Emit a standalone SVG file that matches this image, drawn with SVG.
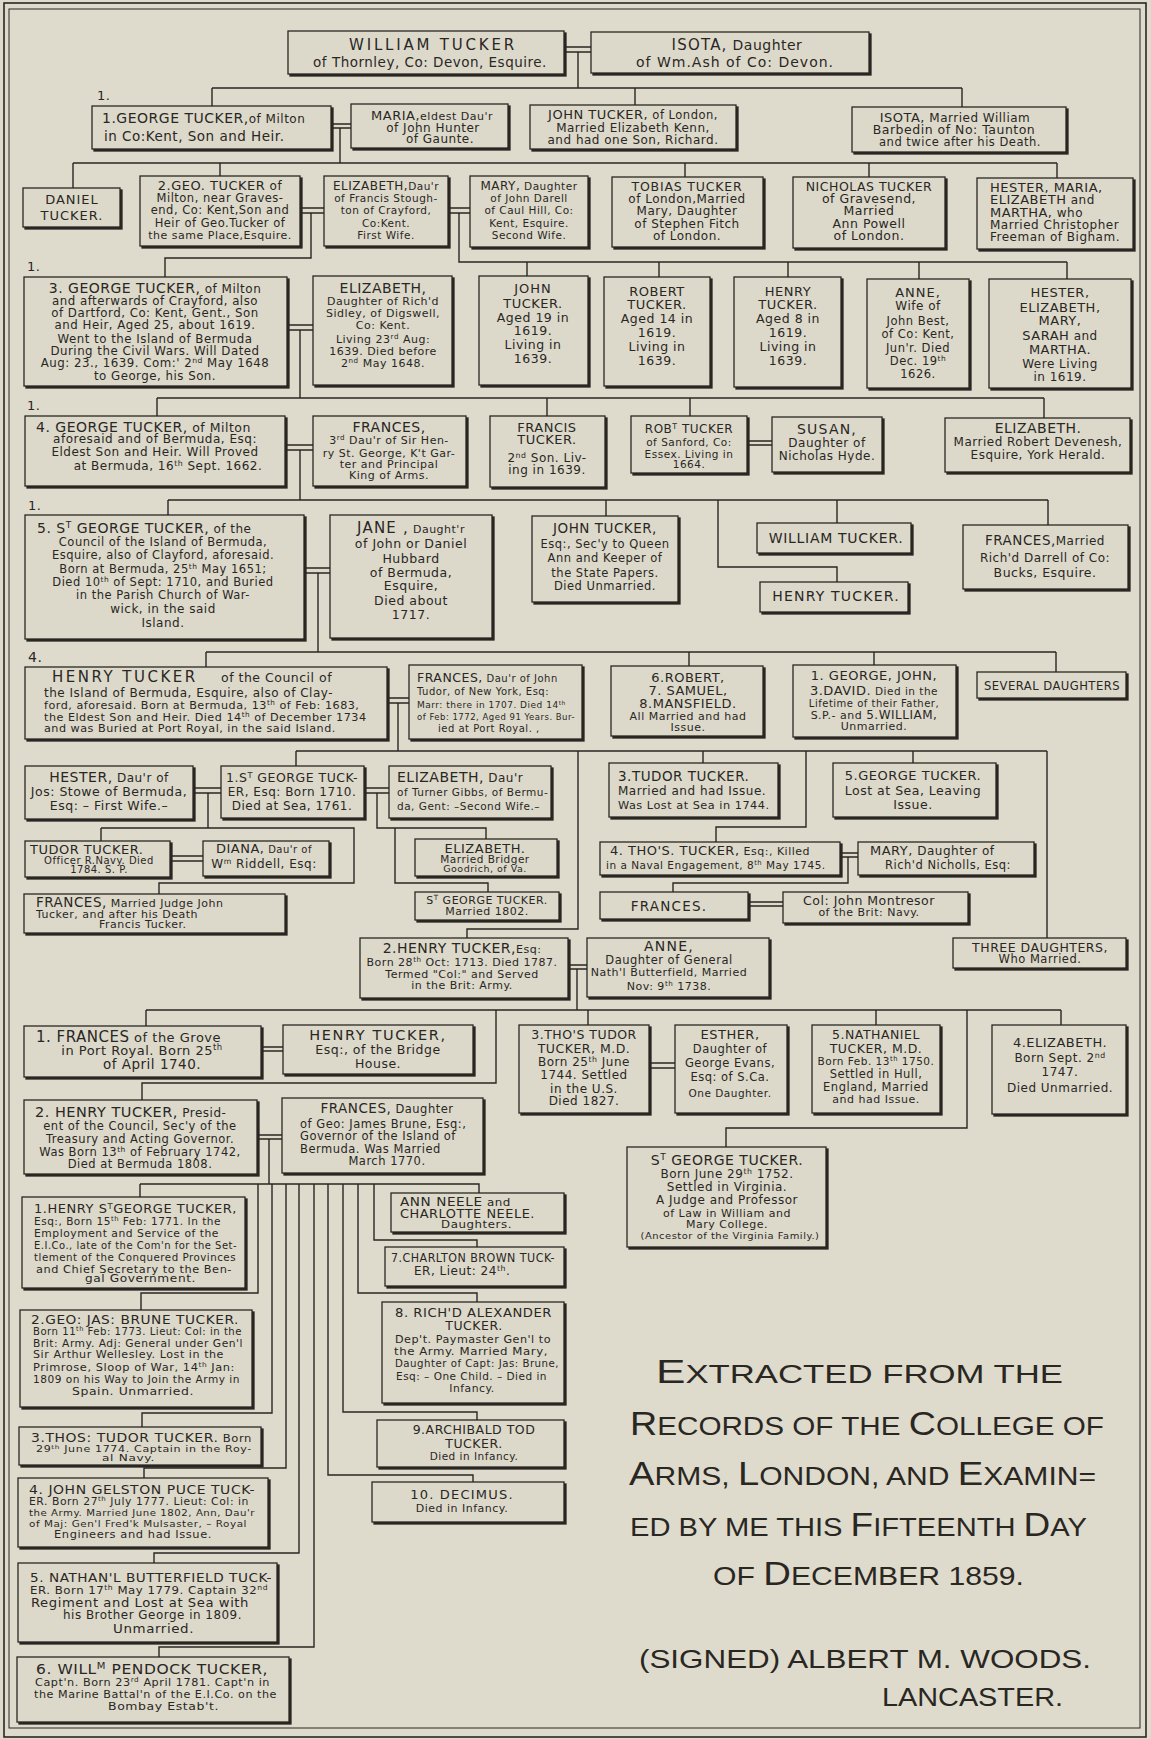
<svg xmlns="http://www.w3.org/2000/svg" width="1151" height="1739" viewBox="0 0 1151 1739">
<defs>
<filter id="sh" x="-5%" y="-10%" width="115%" height="130%" color-interpolation-filters="sRGB">
<feOffset in="SourceAlpha" dx="1.6" dy="2" result="o"/>
<feFlood flood-color="#2a2723"/>
<feComposite in2="o" operator="in" result="s"/>
<feMerge><feMergeNode in="s"/><feMergeNode in="SourceGraphic"/></feMerge>
</filter>
<style>
text{font-family:"DejaVu Sans","Liberation Sans",sans-serif;fill:#2a2723;letter-spacing:.5px}
.c{text-anchor:middle}
.bx{fill:#dcd9cb;stroke:#2a2723;stroke-width:1.3;filter:url(#sh)}
.ln{fill:none;stroke:#2a2723;stroke-width:1.4}
.fr{fill:none;stroke:#2a2723}
.sp{font-size:65%;baseline-shift:super}
.bg text{font-family:"Liberation Sans",sans-serif;fill:#2a2723;letter-spacing:0}
</style>
</defs>
<rect x="0" y="0" width="1151" height="1739" fill="#dedbcd"/>
<rect class="fr" x="4" y="3" width="1142" height="1734" stroke-width="1.6"/>
<rect class="fr" x="9" y="9" width="1131" height="1719" stroke-width="1"/>

<g id="connectors">
<path class="ln" d="M564 47H591M564 52H591M331 124H351M331 128H351M300 208H324M300 213H324M448 208H470M448 213H470M287 325H313M287 330H313M747 441H772M747 445H772M285 445H313M285 450H313M304 568H330M304 573H330M387 698H409M387 703H409M193 788H221M193 793H221M364 788H389M364 793H389M170 856H203M170 861H203M840 853H858M840 857H858M748 902H783M748 906H783M568 965H587M568 969H587M261 1047H283M261 1051H283M649 1063H675M649 1068H675M257 1135H282M257 1139H282"/>
<path class="ln" d="M578 52V88M212 88H962M212 88V106M635 88V105M962 88V107
M340 128V163M73 163H1057M73 163V188M220 163V176M685 163V177M869 163V177M1057 163V178
M311 213V258H165V277M459 213V262H1067M527 262V276M659 262V277M788 262V277M919 262V279M1067 262V279
M300 330V398M157 398H1044M157 398V416M547 398V416M690 398V416M1044 398V418
M300 450V500M168 500H1048M168 500V515M606 500V516M837 500V523M1048 500V525M718 500V567H837V582
M318 573V652M206 652H1056M206 652V667M689 652V666M874 652V665M1056 652V672
M398 703V751M296 751H1047M296 751V766M703 751V763M913 751V763M578 751V929H467V938M806 751V827H716V842M1047 751V938
M208 793V828M101 828H354V883H159V894M101 828V841M377 793V828H486V839M395 828V883H488V892
M848 857V883H673V892
M577 969V1010M146 1010H1061M146 1010V1026M588 1010V1025M876 1010V1025M1061 1010V1025M496 1010V1083H142V1100M967 1010V1128H726V1147
M269 1139V1184M140 1184H479V1193M140 1184V1197
M258 1184V1293H141V1310M272 1184V1413H142V1427M286 1184V1468H144V1478M299 1184V1553H154V1563M314 1184V1647H159V1657
M328 1184V1475H473V1482M343 1184V1412H477V1420M358 1184V1293H477V1302M374 1184V1240H477V1247"/>
</g>

<g id="labels">
<text x="97" y="100" font-size="13">1.</text>
<text x="27" y="271" font-size="13">1.</text>
<text x="27" y="410" font-size="13">1.</text>
<text x="28" y="510" font-size="13">1.</text>
<text x="28" y="662" font-size="14">4.</text>
</g>

<g id="n-william-tucker">
<rect class="bx" x="288" y="31" width="276" height="43"/>
<text class="c" x="433" y="50" font-size="15" style="letter-spacing:2.8px">WILLIAM TUCKER</text>
<text class="c" x="430" y="67" font-size="13.5">of Thornley, Co: Devon, Esquire.</text>
</g>
<g id="n-isota-ash">
<rect class="bx" x="591" y="32" width="278" height="41"/>
<text class="c" x="737" y="50"><tspan font-size="15" style="letter-spacing:1.2px">ISOTA,</tspan><tspan font-size="14"> Daughter</tspan></text>
<text class="c" x="735" y="67" font-size="14" style="letter-spacing:1px">of Wm.Ash of Co: Devon.</text>
</g>

<g id="n-george-1">
<rect class="bx" x="92" y="106" width="239" height="43"/>
<text x="102" y="123"><tspan font-size="14">1.GEORGE TUCKER,</tspan><tspan font-size="12">of Milton</tspan></text>
<text x="104" y="141" font-size="13.5">in Co:Kent,  Son and Heir.</text>
</g>
<g id="n-maria">
<rect class="bx" x="351" y="104" width="157" height="44"/>
<text class="c" x="432" y="120"><tspan font-size="13">MARIA,</tspan><tspan font-size="11">eldest Dau'r</tspan></text>
<text class="c" x="433" y="132" font-size="12">of John Hunter</text>
<text class="c" x="440" y="143" font-size="12">of Gaunte.</text>
</g>
<g id="n-john-london">
<rect class="bx" x="530" y="105" width="206" height="44"/>
<text class="c" x="633" y="119"><tspan font-size="13">JOHN TUCKER,</tspan><tspan font-size="11.5"> of London,</tspan></text>
<text class="c" x="633" y="132" font-size="12">Married Elizabeth Kenn,</text>
<text class="c" x="633" y="144" font-size="12">and had one Son, Richard.</text>
</g>
<g id="n-isota-barbedin">
<rect class="bx" x="852" y="107" width="214" height="45"/>
<text class="c" x="955" y="122"><tspan font-size="13">ISOTA,</tspan><tspan font-size="12"> Married William</tspan></text>
<text class="c" x="954" y="134" font-size="12.5">Barbedin of No: Taunton</text>
<text class="c" x="960" y="146" font-size="11.5">and twice after his Death.</text>
</g>

<g id="n-daniel">
<rect class="bx" x="23" y="188" width="97" height="39"/>
<text class="c" x="72" y="204" font-size="13" style="letter-spacing:1px">DANIEL</text>
<text class="c" x="72" y="220" font-size="13" style="letter-spacing:1px">TUCKER.</text>
</g>
<g id="n-geo-2">
<rect class="bx" x="140" y="176" width="160" height="70"/>
<text class="c" x="220" y="190"><tspan font-size="13">2.GEO. TUCKER</tspan><tspan font-size="12"> of</tspan></text>
<text class="c" x="220" y="202" font-size="11.5">Milton, near Graves-</text>
<text class="c" x="220" y="214" font-size="11.5">end, Co: Kent,Son and</text>
<text class="c" x="220" y="227" font-size="11.5">Heir of Geo.Tucker of</text>
<text class="c" x="220" y="239" font-size="11">the same Place,Esquire.</text>
</g>
<g id="n-elizabeth-stoughton">
<rect class="bx" x="324" y="176" width="124" height="70"/>
<text class="c" x="386" y="190"><tspan font-size="12">ELIZABETH,</tspan><tspan font-size="10.5">Dau'r</tspan></text>
<text class="c" x="386" y="202" font-size="10.5">of Francis Stough-</text>
<text class="c" x="386" y="214" font-size="10.5">ton of Crayford,</text>
<text class="c" x="386" y="227" font-size="10.5">Co:Kent.</text>
<text class="c" x="386" y="239" font-size="10.5">First Wife.</text>
</g>
<g id="n-mary-darell">
<rect class="bx" x="470" y="176" width="118" height="71"/>
<text class="c" x="529" y="190"><tspan font-size="12">MARY,</tspan><tspan font-size="10.5"> Daughter</tspan></text>
<text class="c" x="529" y="202" font-size="10.5">of John Darell</text>
<text class="c" x="529" y="214" font-size="10.5">of Caul Hill, Co:</text>
<text class="c" x="529" y="227" font-size="10.5">Kent, Esquire.</text>
<text class="c" x="529" y="239" font-size="10.5">Second Wife.</text>
</g>
<g id="n-tobias">
<rect class="bx" x="612" y="177" width="151" height="70"/>
<text class="c" x="687" y="191" font-size="12.5" style="letter-spacing:.8px">TOBIAS TUCKER</text>
<text class="c" x="687" y="203" font-size="12">of London,Married</text>
<text class="c" x="687" y="215" font-size="12">Mary, Daughter</text>
<text class="c" x="687" y="228" font-size="12">of Stephen Fitch</text>
<text class="c" x="687" y="240" font-size="12">of London.</text>
</g>
<g id="n-nicholas">
<rect class="bx" x="793" y="177" width="152" height="71"/>
<text class="c" x="869" y="191" font-size="12.5">NICHOLAS TUCKER</text>
<text class="c" x="869" y="203" font-size="12.5">of Gravesend,</text>
<text class="c" x="869" y="215" font-size="12.5">Married</text>
<text class="c" x="869" y="228" font-size="12.5">Ann  Powell</text>
<text class="c" x="869" y="240" font-size="12.5">of London.</text>
</g>
<g id="n-hester-maria">
<rect class="bx" x="977" y="178" width="156" height="71"/>
<text x="990" y="192" font-size="13">HESTER, MARIA,</text>
<text x="990" y="204"><tspan font-size="13">ELIZABETH</tspan><tspan font-size="12"> and</tspan></text>
<text x="990" y="217"><tspan font-size="13">MARTHA,</tspan><tspan font-size="12"> who</tspan></text>
<text x="990" y="229" font-size="12">Married Christopher</text>
<text x="990" y="241" font-size="12">Freeman of Bigham.</text>
</g>

<g id="n-george-3">
<rect class="bx" x="24" y="277" width="263" height="109"/>
<text class="c" x="155" y="293"><tspan font-size="14">3. GEORGE TUCKER,</tspan><tspan font-size="12"> of Milton</tspan></text>
<text class="c" x="155" y="305" font-size="11.8">and afterwards of Crayford, also</text>
<text class="c" x="155" y="317" font-size="11.8">of Dartford, Co: Kent, Gent., Son</text>
<text class="c" x="155" y="329" font-size="11.8">and Heir, Aged 25, about 1619.</text>
<text class="c" x="155" y="343" font-size="11.8">Went to the Island of Bermuda</text>
<text class="c" x="155" y="355" font-size="11.8">During the Civil Wars. Will Dated</text>
<text class="c" x="155" y="367" font-size="11.8">Aug: 23., 1639. Com:' 2<tspan class="sp">nd</tspan> May 1648</text>
<text class="c" x="155" y="380" font-size="11.8">to George, his Son.</text>
</g>
<g id="n-elizabeth-sidley">
<rect class="bx" x="313" y="276" width="139" height="109"/>
<text class="c" x="383" y="293" font-size="14">ELIZABETH,</text>
<text class="c" x="383" y="305" font-size="11">Daughter of Rich'd</text>
<text class="c" x="383" y="317" font-size="11">Sidley, of Digswell,</text>
<text class="c" x="383" y="329" font-size="11">Co: Kent.</text>
<text class="c" x="383" y="343" font-size="11">Living 23<tspan class="sp">rd</tspan> Aug:</text>
<text class="c" x="383" y="355" font-size="11">1639. Died before</text>
<text class="c" x="383" y="367" font-size="11">2<tspan class="sp">nd</tspan> May 1648.</text>
</g>
<g id="n-john-1619">
<rect class="bx" x="479" y="276" width="109" height="109"/>
<text class="c" x="533" y="293" font-size="13" style="letter-spacing:1px">JOHN</text>
<text class="c" x="533" y="308" font-size="13">TUCKER.</text>
<text class="c" x="533" y="322" font-size="12.5">Aged 19 in</text>
<text class="c" x="533" y="335" font-size="12.5">1619.</text>
<text class="c" x="533" y="349" font-size="12.5">Living in</text>
<text class="c" x="533" y="363" font-size="12.5">1639.</text>
</g>
<g id="n-robert-1619">
<rect class="bx" x="604" y="277" width="106" height="109"/>
<text class="c" x="657" y="296" font-size="13">ROBERT</text>
<text class="c" x="657" y="309" font-size="13">TUCKER.</text>
<text class="c" x="657" y="323" font-size="12.5">Aged 14 in</text>
<text class="c" x="657" y="337" font-size="12.5">1619.</text>
<text class="c" x="657" y="351" font-size="12.5">Living in</text>
<text class="c" x="657" y="365" font-size="12.5">1639.</text>
</g>
<g id="n-henry-1619">
<rect class="bx" x="734" y="277" width="107" height="110"/>
<text class="c" x="788" y="296" font-size="13">HENRY</text>
<text class="c" x="788" y="309" font-size="13">TUCKER.</text>
<text class="c" x="788" y="323" font-size="12.5">Aged 8 in</text>
<text class="c" x="788" y="337" font-size="12.5">1619.</text>
<text class="c" x="788" y="351" font-size="12.5">Living in</text>
<text class="c" x="788" y="365" font-size="12.5">1639.</text>
</g>
<g id="n-anne-best">
<rect class="bx" x="867" y="279" width="102" height="109"/>
<text class="c" x="918" y="297" font-size="13" style="letter-spacing:1px">ANNE,</text>
<text class="c" x="918" y="310" font-size="12">Wife of</text>
<text class="c" x="918" y="325" font-size="11.5">John Best,</text>
<text class="c" x="918" y="338" font-size="11.5">of Co: Kent,</text>
<text class="c" x="918" y="352" font-size="11.5">Jun'r. Died</text>
<text class="c" x="918" y="365" font-size="11.5">Dec. 19<tspan class="sp">th</tspan></text>
<text class="c" x="918" y="378" font-size="11.5">1626.</text>
</g>
<g id="n-hester-sarah">
<rect class="bx" x="989" y="279" width="142" height="109"/>
<text class="c" x="1060" y="297" font-size="13">HESTER,</text>
<text class="c" x="1060" y="312" font-size="13">ELIZABETH,</text>
<text class="c" x="1060" y="325" font-size="13">MARY,</text>
<text class="c" x="1060" y="340"><tspan font-size="13">SARAH</tspan><tspan font-size="12"> and</tspan></text>
<text class="c" x="1060" y="354" font-size="13">MARTHA.</text>
<text class="c" x="1060" y="368" font-size="12">Were Living</text>
<text class="c" x="1060" y="381" font-size="12">in 1619.</text>
</g>

<g id="n-george-4">
<rect class="bx" x="25" y="416" width="260" height="70"/>
<text x="36" y="432"><tspan font-size="14">4. GEORGE TUCKER,</tspan><tspan font-size="12.5"> of Milton</tspan></text>
<text class="c" x="155" y="443" font-size="12">aforesaid and of Bermuda, Esq:</text>
<text class="c" x="155" y="456" font-size="12">Eldest Son and Heir. Will Proved</text>
<text class="c" x="168" y="470" font-size="12">at Bermuda, 16<tspan class="sp">th</tspan> Sept. 1662.</text>
</g>
<g id="n-frances-st-george">
<rect class="bx" x="313" y="416" width="153" height="70"/>
<text class="c" x="389" y="432" font-size="14">FRANCES,</text>
<text class="c" x="389" y="444" font-size="11">3<tspan class="sp">rd</tspan> Dau'r of Sir Hen-</text>
<text class="c" x="389" y="457" font-size="11">ry St. George, K't Gar-</text>
<text class="c" x="389" y="468" font-size="11">ter and Principal</text>
<text class="c" x="389" y="479" font-size="11">King of Arms.</text>
</g>
<g id="n-francis">
<rect class="bx" x="490" y="416" width="115" height="71"/>
<text class="c" x="547" y="432" font-size="13">FRANCIS</text>
<text class="c" x="547" y="444" font-size="13">TUCKER.</text>
<text class="c" x="547" y="462" font-size="12">2<tspan class="sp">nd</tspan> Son. Liv-</text>
<text class="c" x="547" y="474" font-size="12">ing in 1639.</text>
</g>
<g id="n-robt-sanford">
<rect class="bx" x="631" y="416" width="116" height="57"/>
<text class="c" x="689" y="433" font-size="12">ROB<tspan class="sp">T</tspan> TUCKER</text>
<text class="c" x="689" y="446" font-size="10.5">of Sanford, Co:</text>
<text class="c" x="689" y="458" font-size="10.5">Essex. Living in</text>
<text class="c" x="689" y="468" font-size="10.5">1664.</text>
</g>
<g id="n-susan">
<rect class="bx" x="772" y="417" width="110" height="55"/>
<text class="c" x="827" y="434" font-size="14" style="letter-spacing:1.2px">SUSAN,</text>
<text class="c" x="827" y="447" font-size="12">Daughter of</text>
<text class="c" x="827" y="460" font-size="12">Nicholas Hyde.</text>
</g>
<g id="n-elizabeth-devenesh">
<rect class="bx" x="945" y="418" width="185" height="54"/>
<text class="c" x="1038" y="433" font-size="14">ELIZABETH.</text>
<text class="c" x="1038" y="446" font-size="12">Married Robert Devenesh,</text>
<text class="c" x="1038" y="459" font-size="12">Esquire, York Herald.</text>
</g>

<g id="n-st-george-5">
<rect class="bx" x="25" y="515" width="279" height="124"/>
<text x="37" y="533"><tspan font-size="14">5. S<tspan class="sp">T</tspan> GEORGE TUCKER,</tspan><tspan font-size="12"> of the</tspan></text>
<text class="c" x="163" y="546" font-size="11.5">Council of the Island of Bermuda,</text>
<text class="c" x="163" y="559" font-size="11.5">Esquire, also of Clayford, aforesaid.</text>
<text class="c" x="163" y="573" font-size="11.5">Born at Bermuda, 25<tspan class="sp">th</tspan> May 1651;</text>
<text class="c" x="163" y="586" font-size="11.5">Died 10<tspan class="sp">th</tspan> of Sept: 1710, and Buried</text>
<text class="c" x="163" y="599" font-size="11.5">in the Parish Church of War-</text>
<text class="c" x="163" y="613" font-size="12">wick, in the said</text>
<text class="c" x="163" y="627" font-size="12">Island.</text>
</g>
<g id="n-jane">
<rect class="bx" x="330" y="515" width="162" height="123"/>
<text class="c" x="411" y="533"><tspan font-size="15" style="letter-spacing:1.2px">JANE ,</tspan><tspan font-size="11"> Daught'r</tspan></text>
<text class="c" x="411" y="548" font-size="12.5">of John or Daniel</text>
<text class="c" x="411" y="563" font-size="12.5">Hubbard</text>
<text class="c" x="411" y="577" font-size="12.5">of Bermuda,</text>
<text class="c" x="411" y="590" font-size="12.5">Esquire,</text>
<text class="c" x="411" y="605" font-size="12.5">Died about</text>
<text class="c" x="411" y="619" font-size="12.5">1717.</text>
</g>
<g id="n-john-secy">
<rect class="bx" x="532" y="516" width="146" height="86"/>
<text class="c" x="605" y="533" font-size="13.5">JOHN TUCKER,</text>
<text class="c" x="605" y="548" font-size="11.5">Esq:, Sec'y to Queen</text>
<text class="c" x="605" y="562" font-size="11.5">Ann and Keeper of</text>
<text class="c" x="605" y="577" font-size="11.5">the State Papers.</text>
<text class="c" x="605" y="590" font-size="11.5">Died Unmarried.</text>
</g>
<g id="n-william-2">
<rect class="bx" x="757" y="523" width="154" height="30"/>
<text class="c" x="836" y="543" font-size="14" style="letter-spacing:.7px">WILLIAM TUCKER.</text>
</g>
<g id="n-henry-2">
<rect class="bx" x="760" y="582" width="148" height="30"/>
<text class="c" x="836" y="601" font-size="14" style="letter-spacing:1.2px">HENRY TUCKER.</text>
</g>
<g id="n-frances-darrell">
<rect class="bx" x="963" y="525" width="165" height="64"/>
<text class="c" x="1045" y="545"><tspan font-size="13.5">FRANCES,</tspan><tspan font-size="12">Married</tspan></text>
<text class="c" x="1045" y="562" font-size="12">Rich'd Darrell of Co:</text>
<text class="c" x="1045" y="577" font-size="12.5">Bucks, Esquire.</text>
</g>

<g id="n-henry-4">
<rect class="bx" x="25" y="667" width="362" height="72"/>
<text x="52" y="682" font-size="15" style="letter-spacing:2.5px">HENRY TUCKER</text>
<text x="221" y="682" font-size="12.5">of the Council of</text>
<text x="44" y="697" font-size="12">the Island of Bermuda, Esquire, also of Clay-</text>
<text x="44" y="709" font-size="11.2">ford, aforesaid. Born at Bermuda, 13<tspan class="sp">th</tspan> of Feb: 1683,</text>
<text x="44" y="721" font-size="11.2">the Eldest Son and Heir. Died 14<tspan class="sp">th</tspan> of December 1734</text>
<text x="44" y="732" font-size="11.2">and was Buried at Port Royal, in the said Island.</text>
</g>
<g id="n-frances-tudor">
<rect class="bx" x="409" y="665" width="173" height="74"/>
<text x="417" y="682"><tspan font-size="12.5">FRANCES,</tspan><tspan font-size="10"> Dau'r of John</tspan></text>
<text x="417" y="695" font-size="10">Tudor, of New York, Esq:</text>
<text x="417" y="708" font-size="9">Marr: there in 1707. Died 14<tspan class="sp">th</tspan></text>
<text x="417" y="720" font-size="8.7" textLength="158" lengthAdjust="spacingAndGlyphs">of Feb: 1772, Aged 91 Years. Bur-</text>
<text x="438" y="732" font-size="10">ied at Port Royal. ,</text>
</g>
<g id="n-robert-samuel">
<rect class="bx" x="611" y="666" width="152" height="70"/>
<text class="c" x="688" y="682" font-size="13">6.ROBERT,</text>
<text class="c" x="688" y="695" font-size="13">7. SAMUEL,</text>
<text class="c" x="688" y="708" font-size="13">8.MANSFIELD.</text>
<text class="c" x="688" y="720" font-size="11">All Married and had</text>
<text class="c" x="688" y="731" font-size="11">Issue.</text>
</g>
<g id="n-george-john-david">
<rect class="bx" x="793" y="665" width="163" height="72"/>
<text class="c" x="874" y="680" font-size="13">1. GEORGE, JOHN,</text>
<text class="c" x="874" y="695"><tspan font-size="13">3.DAVID.</tspan><tspan font-size="10.5"> Died in the</tspan></text>
<text class="c" x="874" y="707" font-size="10">Lifetime of their Father,</text>
<text class="c" x="874" y="719"><tspan font-size="11">S.P.- and </tspan><tspan font-size="12">5.WILLIAM,</tspan></text>
<text class="c" x="874" y="730" font-size="11">Unmarried.</text>
</g>
<g id="n-several-daughters">
<rect class="bx" x="977" y="672" width="149" height="26"/>
<text class="c" x="1052" y="690" font-size="13" textLength="136" lengthAdjust="spacingAndGlyphs">SEVERAL DAUGHTERS</text>
</g>

<g id="n-hester-stowe">
<rect class="bx" x="25" y="766" width="168" height="53"/>
<text class="c" x="109" y="782"><tspan font-size="14">HESTER,</tspan><tspan font-size="12"> Dau'r of</tspan></text>
<text class="c" x="109" y="796" font-size="12.5">Jos: Stowe of Bermuda,</text>
<text class="c" x="109" y="810" font-size="12.5">Esq: – First Wife.–</text>
</g>
<g id="n-st-george-1">
<rect class="bx" x="221" y="766" width="143" height="52"/>
<text class="c" x="292" y="782" font-size="12" textLength="132" lengthAdjust="spacingAndGlyphs">1.S<tspan class="sp">T</tspan> GEORGE TUCK-</text>
<text class="c" x="292" y="796" font-size="12">ER, Esq: Born 1710.</text>
<text class="c" x="292" y="810" font-size="12">Died at Sea, 1761.</text>
</g>
<g id="n-elizabeth-gibbs">
<rect class="bx" x="389" y="766" width="162" height="52"/>
<text x="397" y="782"><tspan font-size="14">ELIZABETH,</tspan><tspan font-size="12"> Dau'r</tspan></text>
<text x="397" y="796" font-size="10.5">of Turner Gibbs, of Bermu-</text>
<text x="397" y="810" font-size="10.5">da, Gent: –Second Wife.–</text>
</g>
<g id="n-tudor-tucker">
<rect class="bx" x="25" y="841" width="145" height="36"/>
<text x="30" y="854" font-size="13">TUDOR TUCKER.</text>
<text class="c" x="99" y="864" font-size="10">Officer R.Navy. Died</text>
<text class="c" x="99" y="873" font-size="10">1784. S. P.</text>
</g>
<g id="n-diana">
<rect class="bx" x="203" y="841" width="126" height="35"/>
<text class="c" x="264" y="853"><tspan font-size="13">DIANA,</tspan><tspan font-size="10"> Dau'r of</tspan></text>
<text class="c" x="264" y="868" font-size="12">W<tspan class="sp">m</tspan> Riddell, Esq:</text>
</g>
<g id="n-elizabeth-goodrich">
<rect class="bx" x="415" y="839" width="142" height="37"/>
<text class="c" x="485" y="853" font-size="13">ELIZABETH.</text>
<text class="c" x="485" y="863" font-size="10.5">Married  Bridger</text>
<text class="c" x="485" y="872" font-size="9.5">Goodrich, of Va.</text>
</g>
<g id="n-frances-judge">
<rect class="bx" x="24" y="894" width="261" height="39"/>
<text x="36" y="907"><tspan font-size="13.5">FRANCES,</tspan><tspan font-size="11"> Married Judge John</tspan></text>
<text x="36" y="918" font-size="11">Tucker, and after his Death</text>
<text x="99" y="928" font-size="11">Francis Tucker.</text>
</g>
<g id="n-st-george-1802">
<rect class="bx" x="415" y="892" width="144" height="28"/>
<text class="c" x="487" y="904" font-size="11">S<tspan class="sp">T</tspan> GEORGE TUCKER.</text>
<text class="c" x="487" y="915" font-size="11">Married 1802.</text>
</g>
<g id="n-tudor-3">
<rect class="bx" x="609" y="763" width="169" height="54"/>
<text x="618" y="781" font-size="13.5">3.TUDOR TUCKER.</text>
<text x="618" y="795" font-size="12">Married and had Issue.</text>
<text x="618" y="809" font-size="11.3">Was Lost at Sea in 1744.</text>
</g>
<g id="n-george-5">
<rect class="bx" x="833" y="763" width="163" height="54"/>
<text class="c" x="913" y="780" font-size="13">5.GEORGE TUCKER.</text>
<text class="c" x="913" y="795" font-size="12.5">Lost at Sea, Leaving</text>
<text class="c" x="913" y="809" font-size="12.5">Issue.</text>
</g>
<g id="n-thos-4">
<rect class="bx" x="600" y="842" width="240" height="33"/>
<text x="610" y="855"><tspan font-size="13">4. THO'S. TUCKER,</tspan><tspan font-size="11"> Esq:, Killed</tspan></text>
<text x="606" y="869" font-size="10.5">in a Naval Engagement, 8<tspan class="sp">th</tspan> May 1745.</text>
</g>
<g id="n-mary-nicholls">
<rect class="bx" x="858" y="842" width="176" height="33"/>
<text x="870" y="855"><tspan font-size="13">MARY,</tspan><tspan font-size="12"> Daughter of</tspan></text>
<text x="885" y="869" font-size="11.5">Rich'd Nicholls, Esq:</text>
</g>
<g id="n-frances-montresor">
<rect class="bx" x="600" y="892" width="148" height="27"/>
<text class="c" x="669" y="911" font-size="13.5" style="letter-spacing:1.2px">FRANCES.</text>
</g>
<g id="n-col-montresor">
<rect class="bx" x="783" y="892" width="185" height="31"/>
<text class="c" x="869" y="905" font-size="12.5">Col: John Montresor</text>
<text class="c" x="869" y="916" font-size="11">of the Brit: Navy.</text>
</g>
<g id="n-three-daughters">
<rect class="bx" x="953" y="938" width="173" height="30"/>
<text class="c" x="1040" y="952" font-size="12.5">THREE DAUGHTERS,</text>
<text class="c" x="1040" y="963" font-size="11.5">Who Married.</text>
</g>
<g id="n-anne-butterfield">
<rect class="bx" x="587" y="938" width="182" height="59"/>
<text class="c" x="669" y="951" font-size="14" style="letter-spacing:1.2px">ANNE,</text>
<text class="c" x="669" y="964" font-size="11.5">Daughter of General</text>
<text class="c" x="669" y="976" font-size="11">Nath'l Butterfield, Married</text>
<text class="c" x="669" y="990" font-size="11">Nov: 9<tspan class="sp">th</tspan> 1738.</text>
</g>
<g id="n-henry-2-esq">
<rect class="bx" x="360" y="938" width="208" height="60"/>
<text class="c" x="462" y="953"><tspan font-size="14">2.HENRY TUCKER,</tspan><tspan font-size="11">Esq:</tspan></text>
<text class="c" x="462" y="966" font-size="11">Born 28<tspan class="sp">th</tspan> Oct: 1713. Died 1787.</text>
<text class="c" x="462" y="978" font-size="11">Termed "Col:" and Served</text>
<text class="c" x="462" y="989" font-size="11">in the Brit: Army.</text>
</g>

<g id="n-frances-grove">
<rect class="bx" x="24" y="1026" width="237" height="51"/>
<text x="36" y="1042"><tspan font-size="15">1. FRANCES</tspan><tspan font-size="13"> of the Grove</tspan></text>
<text class="c" x="142" y="1055" font-size="13">in Port Royal. Born 25<tspan class="sp">th</tspan></text>
<text class="c" x="152" y="1069" font-size="13.5">of April 1740.</text>
</g>
<g id="n-henry-bridge">
<rect class="bx" x="283" y="1025" width="190" height="49"/>
<text class="c" x="378" y="1040" font-size="14.5" style="letter-spacing:1.6px">HENRY TUCKER,</text>
<text class="c" x="378" y="1054" font-size="12.5">Esq:, of the Bridge</text>
<text class="c" x="378" y="1068" font-size="12.5">House.</text>
</g>
<g id="n-thos-tudor-md">
<rect class="bx" x="519" y="1025" width="130" height="88"/>
<text class="c" x="584" y="1039" font-size="12.5">3.THO'S TUDOR</text>
<text class="c" x="584" y="1053" font-size="12.5">TUCKER, M.D.</text>
<text class="c" x="584" y="1066" font-size="12">Born 25<tspan class="sp">th</tspan> June</text>
<text class="c" x="584" y="1079" font-size="12">1744. Settled</text>
<text class="c" x="584" y="1093" font-size="12">in the U.S.</text>
<text class="c" x="584" y="1105" font-size="12">Died 1827.</text>
</g>
<g id="n-esther">
<rect class="bx" x="675" y="1025" width="112" height="88"/>
<text class="c" x="730" y="1039" font-size="13">ESTHER,</text>
<text class="c" x="730" y="1053" font-size="11.5">Daughter of</text>
<text class="c" x="730" y="1067" font-size="11.5">George Evans,</text>
<text class="c" x="730" y="1081" font-size="11.5">Esq: of S.Ca.</text>
<text class="c" x="730" y="1097" font-size="10.5">One Daughter.</text>
</g>
<g id="n-nathaniel-md">
<rect class="bx" x="812" y="1025" width="128" height="88"/>
<text class="c" x="876" y="1039" font-size="12.5">5.NATHANIEL</text>
<text class="c" x="876" y="1053" font-size="12.5">TUCKER, M.D.</text>
<text class="c" x="876" y="1065" font-size="10.5">Born Feb. 13<tspan class="sp">th</tspan> 1750.</text>
<text class="c" x="876" y="1078" font-size="11.5">Settled in Hull,</text>
<text class="c" x="876" y="1091" font-size="11.5">England, Married</text>
<text class="c" x="876" y="1103" font-size="11">and had Issue.</text>
</g>
<g id="n-elizabeth-4">
<rect class="bx" x="992" y="1025" width="134" height="89"/>
<text class="c" x="1060" y="1047" font-size="13">4.ELIZABETH.</text>
<text class="c" x="1060" y="1062" font-size="12">Born Sept. 2<tspan class="sp">nd</tspan></text>
<text class="c" x="1060" y="1076" font-size="12">1747.</text>
<text class="c" x="1060" y="1092" font-size="12">Died Unmarried.</text>
</g>
<g id="n-st-george-virginia">
<rect class="bx" x="627" y="1147" width="199" height="100"/>
<text class="c" x="727" y="1165" font-size="14">S<tspan class="sp">T</tspan> GEORGE TUCKER.</text>
<text class="c" x="727" y="1178" font-size="12">Born June 29<tspan class="sp">th</tspan> 1752.</text>
<text class="c" x="727" y="1191" font-size="12">Settled in Virginia.</text>
<text class="c" x="727" y="1204" font-size="12">A Judge and Professor</text>
<text class="c" x="727" y="1217" font-size="11">of Law in William and</text>
<text class="c" x="727" y="1228" font-size="11">Mary College.</text>
<text class="c" x="730" y="1239" font-size="9.5" textLength="179" lengthAdjust="spacingAndGlyphs">(Ancestor of the Virginia Family.)</text>
</g>
<g id="n-henry-president">
<rect class="bx" x="24" y="1100" width="233" height="74"/>
<text x="35" y="1117"><tspan font-size="14.5">2. HENRY TUCKER,</tspan><tspan font-size="12"> Presid-</tspan></text>
<text class="c" x="140" y="1130" font-size="11.5">ent of the Council, Sec'y of the</text>
<text class="c" x="140" y="1143" font-size="11.5">Treasury and Acting Governor.</text>
<text class="c" x="140" y="1156" font-size="11.5">Was Born 13<tspan class="sp">th</tspan> of February 1742,</text>
<text class="c" x="140" y="1168" font-size="11.5">Died at Bermuda 1808.</text>
</g>
<g id="n-frances-brune">
<rect class="bx" x="282" y="1098" width="201" height="75"/>
<text class="c" x="387" y="1113"><tspan font-size="13.5">FRANCES,</tspan><tspan font-size="11.5"> Daughter</tspan></text>
<text x="300" y="1128" font-size="11.5">of Geo: James Brune, Esq:,</text>
<text x="300" y="1140" font-size="11.5">Governor of the Island of</text>
<text x="300" y="1153" font-size="11.5">Bermuda. Was Married</text>
<text class="c" x="387" y="1165" font-size="11.5">March 1770.</text>
</g>

<g id="n-henry-st-george">
<rect class="bx" x="22" y="1197" width="223" height="91"/>
<text x="34" y="1213" font-size="12" textLength="203" lengthAdjust="spacingAndGlyphs">1.HENRY S<tspan class="sp">T</tspan>GEORGE TUCKER,</text>
<text x="34" y="1225" font-size="10.3" textLength="187" lengthAdjust="spacingAndGlyphs">Esq:, Born 15<tspan class="sp">th</tspan> Feb: 1771. In the</text>
<text x="34" y="1237" font-size="10.3" textLength="185" lengthAdjust="spacingAndGlyphs">Employment and Service of the</text>
<text x="34" y="1249" font-size="10.3" textLength="203" lengthAdjust="spacingAndGlyphs">E.I.Co., late of the Com'n for the Set-</text>
<text x="34" y="1261" font-size="10.3" textLength="202" lengthAdjust="spacingAndGlyphs">tlement of the Conquered Provinces</text>
<text x="36" y="1273" font-size="10.3" textLength="196" lengthAdjust="spacingAndGlyphs">and Chief Secretary to the Ben-</text>
<text x="85" y="1282" font-size="10.3" textLength="111" lengthAdjust="spacingAndGlyphs">gal Government.</text>
</g>
<g id="n-geo-jas-brune">
<rect class="bx" x="20" y="1310" width="232" height="97"/>
<text x="31" y="1324" font-size="12" textLength="208" lengthAdjust="spacingAndGlyphs">2.GEO: JAS: BRUNE TUCKER.</text>
<text x="33" y="1335" font-size="10.3" textLength="209" lengthAdjust="spacingAndGlyphs">Born 11<tspan class="sp">th</tspan> Feb: 1773. Lieut: Col: in the</text>
<text x="33" y="1347" font-size="10.3" textLength="210" lengthAdjust="spacingAndGlyphs">Brit: Army. Adj: General under Gen'l</text>
<text x="33" y="1358" font-size="10.3" textLength="191" lengthAdjust="spacingAndGlyphs">Sir Arthur Wellesley. Lost in the</text>
<text x="33" y="1371" font-size="10.3" textLength="202" lengthAdjust="spacingAndGlyphs">Primrose, Sloop of War, 14<tspan class="sp">th</tspan> Jan:</text>
<text x="33" y="1383" font-size="10.3" textLength="207" lengthAdjust="spacingAndGlyphs">1809 on his Way to Join the Army in</text>
<text x="72" y="1395" font-size="10.8" textLength="122" lengthAdjust="spacingAndGlyphs">Spain. Unmarried.</text>
</g>
<g id="n-thos-tudor-navy">
<rect class="bx" x="19" y="1427" width="242" height="38"/>
<text x="31" y="1442" textLength="221" lengthAdjust="spacingAndGlyphs"><tspan font-size="12">3.THOS: TUDOR TUCKER.</tspan><tspan font-size="10"> Born</tspan></text>
<text x="36" y="1452" font-size="8.8" textLength="216" lengthAdjust="spacingAndGlyphs">29<tspan class="sp">th</tspan> June 1774. Captain in the Roy-</text>
<text x="102" y="1461" font-size="8.8" textLength="53" lengthAdjust="spacingAndGlyphs">al Navy.</text>
</g>
<g id="n-john-gelston">
<rect class="bx" x="18" y="1478" width="250" height="69"/>
<text x="29" y="1494" font-size="12.5" textLength="226" lengthAdjust="spacingAndGlyphs">4. JOHN GELSTON PUCE TUCK-</text>
<text x="29" y="1505" font-size="9.8" textLength="220" lengthAdjust="spacingAndGlyphs">ER. Born 27<tspan class="sp">th</tspan> July 1777. Lieut: Col: in</text>
<text x="29" y="1516" font-size="9.5" textLength="226" lengthAdjust="spacingAndGlyphs">the Army. Married June 1802, Ann, Dau'r</text>
<text x="29" y="1527" font-size="9.5" textLength="218" lengthAdjust="spacingAndGlyphs">of Maj: Gen'l Fred'k Mulsaster, – Royal</text>
<text x="54" y="1538" font-size="9.8" textLength="158" lengthAdjust="spacingAndGlyphs">Engineers and had Issue.</text>
</g>
<g id="n-nathan-butterfield">
<rect class="bx" x="18" y="1563" width="259" height="79"/>
<text x="30" y="1582" font-size="12.5" textLength="242" lengthAdjust="spacingAndGlyphs">5. NATHAN'L BUTTERFIELD TUCK-</text>
<text x="30" y="1594" font-size="11.3" textLength="238" lengthAdjust="spacingAndGlyphs">ER. Born 17<tspan class="sp">th</tspan> May 1779. Captain 32<tspan class="sp">nd</tspan></text>
<text x="31" y="1607" font-size="11.8" textLength="218" lengthAdjust="spacingAndGlyphs">Regiment and Lost at Sea with</text>
<text x="63" y="1619" font-size="11.5" textLength="179" lengthAdjust="spacingAndGlyphs">his Brother George in 1809.</text>
<text x="113" y="1633" font-size="11.5" textLength="81" lengthAdjust="spacingAndGlyphs">Unmarried.</text>
</g>
<g id="n-willm-pendock">
<rect class="bx" x="17" y="1657" width="272" height="65"/>
<text x="36" y="1674" font-size="13.5" textLength="232" lengthAdjust="spacingAndGlyphs">6. WILL<tspan class="sp">M</tspan> PENDOCK TUCKER,</text>
<text x="35" y="1686" font-size="10.5" textLength="235" lengthAdjust="spacingAndGlyphs">Capt'n. Born 23<tspan class="sp">rd</tspan> April 1781. Capt'n in</text>
<text x="34" y="1698" font-size="10.5" textLength="243" lengthAdjust="spacingAndGlyphs">the Marine Battal'n of the E.I.Co. on the</text>
<text x="108" y="1710" font-size="11" textLength="111" lengthAdjust="spacingAndGlyphs">Bombay Estab't.</text>
</g>
<g id="n-neele">
<rect class="bx" x="391" y="1193" width="173" height="39"/>
<text x="400" y="1206" textLength="111" lengthAdjust="spacingAndGlyphs"><tspan font-size="12">ANN NEELE</tspan><tspan font-size="10.5"> and</tspan></text>
<text x="400" y="1218" font-size="12" textLength="135" lengthAdjust="spacingAndGlyphs">CHARLOTTE NEELE.</text>
<text x="441" y="1228" font-size="10.5" textLength="71" lengthAdjust="spacingAndGlyphs">Daughters.</text>
</g>
<g id="n-charlton">
<rect class="bx" x="385" y="1247" width="179" height="39"/>
<text x="391" y="1262" font-size="11.5" textLength="164" lengthAdjust="spacingAndGlyphs">7.CHARLTON BROWN TUCK-</text>
<text x="414" y="1275" font-size="12">ER, Lieut: 24<tspan class="sp">th</tspan>.</text>
</g>
<g id="n-richd-alexander">
<rect class="bx" x="382" y="1302" width="182" height="101"/>
<text x="395" y="1317" font-size="12.5" textLength="157" lengthAdjust="spacingAndGlyphs">8. RICH'D ALEXANDER</text>
<text class="c" x="474" y="1330" font-size="12.5">TUCKER.</text>
<text x="395" y="1343" font-size="10.8" textLength="156" lengthAdjust="spacingAndGlyphs">Dep't. Paymaster Gen'l to</text>
<text x="394" y="1355" font-size="10.8" textLength="154" lengthAdjust="spacingAndGlyphs">the Army. Married Mary,</text>
<text x="395" y="1367" font-size="10.5" textLength="164" lengthAdjust="spacingAndGlyphs">Daughter of Capt: Jas: Brune,</text>
<text x="396" y="1380" font-size="10.8" textLength="151" lengthAdjust="spacingAndGlyphs">Esq: – One Child. – Died in</text>
<text class="c" x="472" y="1392" font-size="10.8">Infancy.</text>
</g>
<g id="n-archibald">
<rect class="bx" x="377" y="1420" width="187" height="47"/>
<text class="c" x="474" y="1434" font-size="12.5">9.ARCHIBALD  TOD</text>
<text class="c" x="474" y="1448" font-size="12.5">TUCKER.</text>
<text class="c" x="474" y="1460" font-size="10.5">Died in Infancy.</text>
</g>
<g id="n-decimus">
<rect class="bx" x="372" y="1482" width="192" height="40"/>
<text class="c" x="462" y="1499" font-size="13" style="letter-spacing:1.2px">10. DECIMUS.</text>
<text class="c" x="462" y="1512" font-size="11">Died in Infancy.</text>
</g>

<g id="attestation" class="bg">
<text x="656" y="1383" font-size="26" textLength="407" lengthAdjust="spacingAndGlyphs"><tspan font-size="33">E</tspan>XTRACTED FROM THE</text>
<text x="630" y="1435" font-size="26" textLength="474" lengthAdjust="spacingAndGlyphs"><tspan font-size="33">R</tspan>ECORDS OF THE <tspan font-size="33">C</tspan>OLLEGE OF</text>
<text x="629" y="1485" font-size="26" textLength="467" lengthAdjust="spacingAndGlyphs"><tspan font-size="33">A</tspan>RMS, <tspan font-size="33">L</tspan>ONDON, AND <tspan font-size="33">E</tspan>XAMIN=</text>
<text x="630" y="1536" font-size="26" textLength="457" lengthAdjust="spacingAndGlyphs">ED BY ME THIS <tspan font-size="33">F</tspan>IFTEENTH <tspan font-size="33">D</tspan>AY</text>
<text x="713" y="1585" font-size="26" textLength="311" lengthAdjust="spacingAndGlyphs">OF <tspan font-size="33">D</tspan>ECEMBER 1859.</text>
<text x="639" y="1668" font-size="25" textLength="452" lengthAdjust="spacingAndGlyphs">(SIGNED) ALBERT M. WOODS.</text>
<text x="882" y="1706" font-size="25" textLength="181" lengthAdjust="spacingAndGlyphs">LANCASTER.</text>
</g>
</svg>
